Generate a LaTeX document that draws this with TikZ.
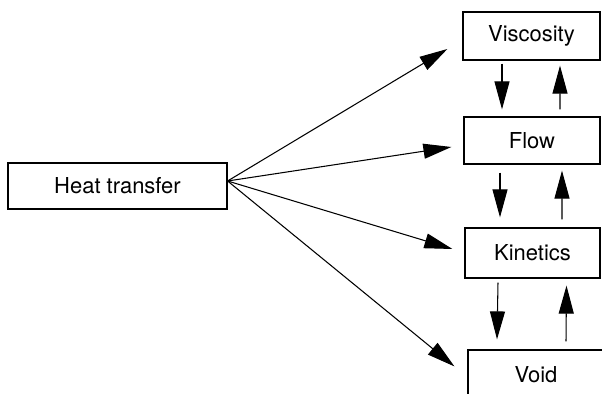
\documentclass[tikz,border=0pt]{standalone}
\usepackage{fontspec}
\setmainfont{TeX Gyre Heros}
\usetikzlibrary{arrows.meta,calc}

\begin{document}
\begin{tikzpicture}
[
 x=0.02cm, y=-0.02cm,
 every node/.style={font=\fontsize{12.5}{14}\selectfont},
 BOX/.style={rectangle, draw=black, line width=0.7pt, inner sep=0pt},
 ARR/.style={line width=0.6pt, -{Triangle[length=5.6mm,width=3.0mm]}},
 ],
%
\useasboundingbox (0,0) rectangle (602,394);
\clip (0,0) rectangle (602,394);
%
\node [BOX, minimum width=4.38cm, minimum height=0.92cm]  (heat)  at (117.5,186)  {Heat transfer};
%
\node [BOX, minimum width=2.74cm, minimum height=0.96cm]  (visc)  at (531.5, 36)  {Viscosity};
\node [BOX, minimum width=2.72cm, minimum height=0.94cm]  (flow)  at (532,140.5)  {Flow};
\node [BOX, minimum width=2.70cm, minimum height=1.00cm]  (kin)   at (532.5,253)  {Kinetics};
\node [BOX, minimum width=2.72cm, minimum height=1.00cm]  (void)  at (536,375)    {Void};
%
\coordinate (hub) at ($(heat.east)+(0,-5)$);
%
\draw [ARR]  (hub) -- ($(visc.west)+(-15,13)$) ;
\draw [ARR]  (hub) -- ($(flow.west)+(-12,6.5)$) ;
\draw [ARR]  (hub) -- ($(kin.west)+(-12,-4)$) ;
\draw [ARR]  (hub) -- ($(void.north west)+(-13,17)$) ;
%
\draw [ARR]  ($(visc.south)+(-29.5,3)$)  -- ($(flow.north)+(-30,-7)$) ;
\draw [ARR]  ($(flow.north)+(28,-7)$)    -- ($(visc.south)+(28.5,5)$) ;
%
\draw [ARR]  ($(flow.south)+(-32,8)$)    -- ($(kin.north)+(-32.5,-10)$) ;
\draw [ARR]  ($(kin.north)+(29.5,-8)$)   -- ($(flow.south)+(30,6)$) ;
%
\draw [ARR]  ($(kin.south)+(-34.5,4)$)   -- ($(void.north)+(-39,-10)$) ;
\draw [ARR]  ($(void.north)+(30,-8)$)    -- ($(kin.south)+(34,7)$) ;
%
\end{tikzpicture}
\end{document}
